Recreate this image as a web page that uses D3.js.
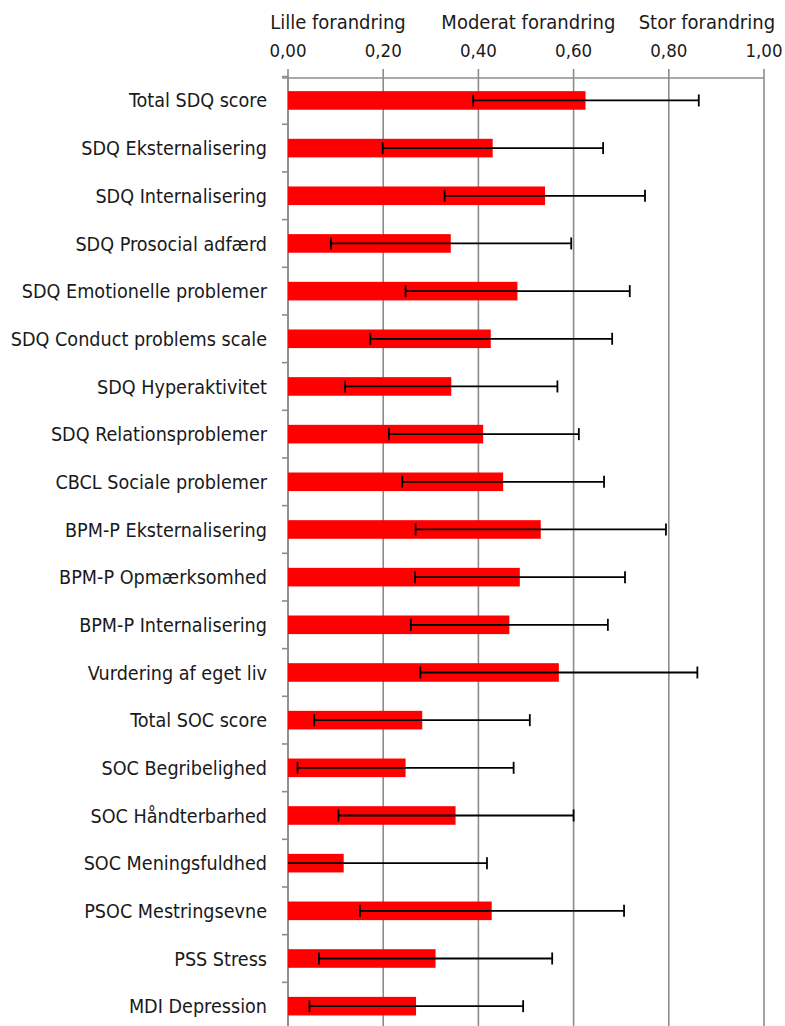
<!DOCTYPE html>
<html>
<head>
<meta charset="utf-8">
<script src="https://cdn.jsdelivr.net/npm/d3@7"></script>
<style>
  html, body { margin: 0; padding: 0; background: #fff; }
  svg text { font-family: "DejaVu Sans Condensed", "DejaVu Sans", sans-serif; fill: #1a1a1a; }
</style>
</head>
<body>
<svg id="chart" width="785" height="1026"></svg>
<script>
// Effect sizes with confidence intervals per outcome measure
const categories = [
  "Total SDQ score",
  "SDQ Eksternalisering",
  "SDQ Internalisering",
  "SDQ Prosocial adfærd",
  "SDQ Emotionelle problemer",
  "SDQ Conduct problems scale",
  "SDQ Hyperaktivitet",
  "SDQ Relationsproblemer",
  "CBCL Sociale problemer",
  "BPM-P Eksternalisering",
  "BPM-P Opmærksomhed",
  "BPM-P Internalisering",
  "Vurdering af eget liv",
  "Total SOC score",
  "SOC Begribelighed",
  "SOC Håndterbarhed",
  "SOC Meningsfuldhed",
  "PSOC Mestringsevne",
  "PSS Stress",
  "MDI Depression"
];
const effect = [0.625, 0.430, 0.540, 0.342, 0.482, 0.426, 0.343, 0.410, 0.452, 0.531,
                0.487, 0.465, 0.569, 0.282, 0.247, 0.352, 0.117, 0.428, 0.310, 0.269];
const ciLow  = [0.389, 0.199, 0.329, 0.090, 0.247, 0.173, 0.120, 0.212, 0.240, 0.268,
                0.267, 0.258, 0.278, 0.055, 0.020, 0.106, -0.184, 0.151, 0.065, 0.045];
const ciHigh = [0.863, 0.662, 0.750, 0.595, 0.718, 0.681, 0.566, 0.611, 0.664, 0.794,
                0.708, 0.672, 0.860, 0.508, 0.474, 0.600, 0.418, 0.706, 0.555, 0.494];
const tickValues = [0, 0.2, 0.4, 0.6, 0.8, 1.0];
const sizeLabels = ["Lille forandring", "Moderat forandring", "Stor forandring"];

const svg = d3.select("#chart");
const gridColor = "#8c8c8c";

const x = d3.scaleLinear().domain([0, 1]).range([288, 764]);
const y = d3.scaleBand().domain(categories).range([76.6, 1030])
  .paddingInner(0.61).paddingOuter(0.305);
const step = y.step();

const fmt = d3.formatLocale({ decimal: ",", thousands: ".", grouping: [3], currency: ["", " kr."] }).format(".2f");

// vertical gridlines
svg.append("g").selectAll("line").data(tickValues).join("line")
  .attr("x1", d => x(d)).attr("x2", d => x(d))
  .attr("y1", 69).attr("y2", 1026)
  .attr("stroke", gridColor).attr("stroke-width", 1.6);

// top axis line
svg.append("line")
  .attr("x1", x(0) - 6).attr("x2", x(1))
  .attr("y1", 78).attr("y2", 78)
  .attr("stroke", gridColor).attr("stroke-width", 1.6);

// tick labels
svg.append("g").selectAll("text").data(tickValues).join("text")
  .attr("x", d => x(d)).attr("y", 57)
  .attr("text-anchor", "middle")
  .attr("font-size", 18.5)
  .text(d => fmt(d));

// effect size bands above the axis
const sizeLabelAt = [0.105, 0.505, 0.88];
svg.append("g").selectAll("text").data(sizeLabels).join("text")
  .attr("x", (d, i) => x(sizeLabelAt[i])).attr("y", 28.5)
  .attr("text-anchor", "middle")
  .attr("font-size", 20)
  .text(d => d);

// left axis with ticks on category boundaries
svg.append("line")
  .attr("x1", x(0)).attr("x2", x(0))
  .attr("y1", y.range()[0]).attr("y2", 1026)
  .attr("stroke", gridColor).attr("stroke-width", 1.6);
svg.append("g").selectAll("line").data(d3.range(categories.length + 1)).join("line")
  .attr("x1", x(0) - 6).attr("x2", x(0))
  .attr("y1", i => y.range()[0] + i * step).attr("y2", i => y.range()[0] + i * step)
  .attr("stroke", gridColor).attr("stroke-width", 1.6);

// category labels
svg.append("g").selectAll("text").data(categories).join("text")
  .attr("x", 267).attr("y", d => y(d) + y.bandwidth() / 2)
  .attr("dy", "0.36em")
  .attr("text-anchor", "end")
  .attr("font-size", 19.6)
  .text(d => d);

// bars
const rows = categories.map((c, i) => ({ c, v: effect[i], lo: ciLow[i], hi: ciHigh[i] }));
svg.append("g").selectAll("rect").data(rows).join("rect")
  .attr("x", x(0))
  .attr("y", d => y(d.c))
  .attr("width", d => x(d.v) - x(0))
  .attr("height", y.bandwidth())
  .attr("fill", "#ff0000");

// confidence intervals
const clamp = v => Math.max(x.domain()[0], Math.min(x.domain()[1], v));
const eb = svg.append("g").attr("stroke", "#000");
rows.forEach(d => {
  const cy = y(d.c) + y.bandwidth() / 2;
  eb.append("line")
    .attr("x1", x(clamp(d.lo))).attr("x2", x(clamp(d.hi)))
    .attr("y1", cy).attr("y2", cy).attr("stroke-width", 1.8);
  [d.lo, d.hi].forEach(v => {
    if (v < x.domain()[0] || v > x.domain()[1]) return;
    eb.append("line")
      .attr("x1", x(v)).attr("x2", x(v))
      .attr("y1", cy - 6).attr("y2", cy + 6).attr("stroke-width", 1.8);
  });
});
</script>
</body>
</html>
